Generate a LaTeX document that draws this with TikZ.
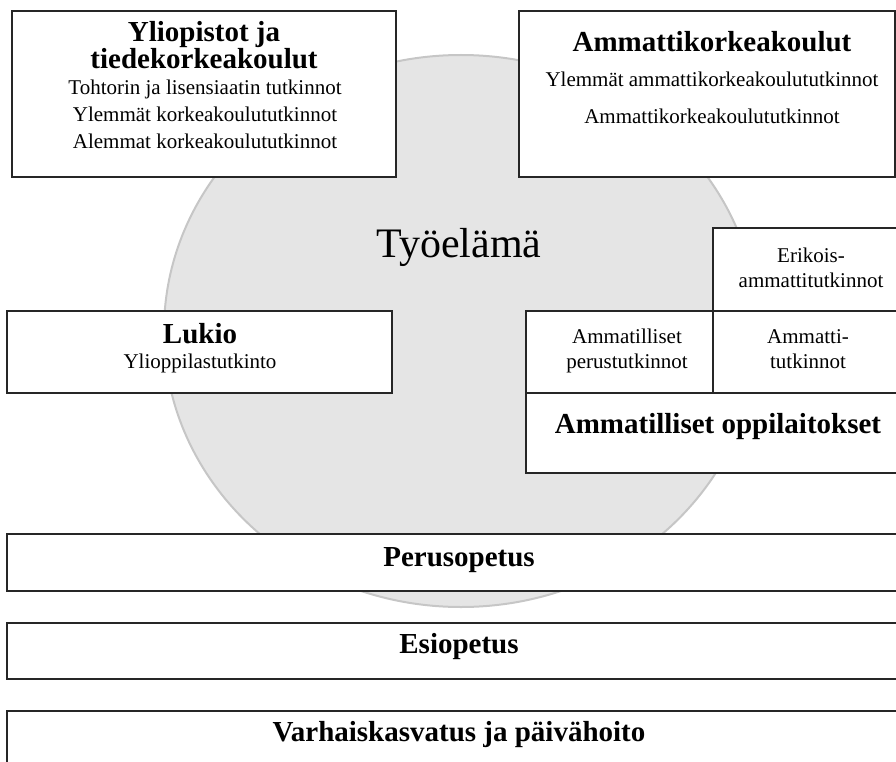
\documentclass[tikz,border=0pt]{standalone}
\usepackage{fontspec}
\setmainfont{Liberation Serif}
\begin{document}
\begin{tikzpicture}[x=1pt,y=-1pt,
  box/.style={draw=black!85, line width=1.3pt, fill=white},
  ttl/.style={font=\bfseries\fontsize{29}{32}\selectfont, anchor=base, inner sep=0pt},
  sub/.style={font=\fontsize{21}{24}\selectfont, anchor=base, inner sep=0pt},
  big/.style={font=\fontsize{42}{46}\selectfont, anchor=base, inner sep=0pt},
]
\useasboundingbox (0,0) rectangle (896,762);
\clip (0,0) rectangle (896,762);

% working life: the large grey disc behind everything
\draw[fill=gray!20, draw=gray!45, line width=2pt]
  (461,331) ellipse [x radius=297, y radius=276];
\node[big] (tyoelama) at (459,257) {Työelämä};

% universities
\draw[box] (12,11) rectangle (396,177);
\node[ttl] (yo1) at (204,42) {Yliopistot ja};
\node[ttl] (yo2) at (204,69) {tiedekorkeakoulut};
\node[sub] (yo3) at (205,95) {Tohtorin ja lisensiaatin tutkinnot};
\node[sub] (yo4) at (205,122) {Ylemmät korkeakoulututkinnot};
\node[sub] (yo5) at (205,149) {Alemmat korkeakoulututkinnot};

% universities of applied sciences
\draw[box] (519,11) rectangle (895,177);
\node[ttl] (amk1) at (712,52) {Ammattikorkeakoulut};
\node[sub] (amk2) at (712,87) {Ylemmät ammattikorkeakoulututkinnot};
\node[sub] (amk3) at (712,124) {Ammattikorkeakoulututkinnot};

% upper secondary school
\draw[box] (7,311) rectangle (392,393);
\node[ttl] (lukio) at (200,343) {Lukio};
\node[sub] (yo) at (200,368) {Ylioppilastutkinto};

% vocational education
\draw[box] (713,228) rectangle (910,311);
\draw[box] (526,311) rectangle (713,393);
\draw[box] (713,311) rectangle (910,393);
\draw[box] (526,393) rectangle (910,473);
\node[sub] (eat1) at (811,262) {Erikois-};
\node[sub] (eat2) at (811,287) {ammattitutkinnot};
\node[sub] (apt1) at (627,343) {Ammatilliset};
\node[sub] (apt2) at (627,368) {perustutkinnot};
\node[sub] (at1) at (808,343) {Ammatti-};
\node[sub] (at2) at (808,368) {tutkinnot};
\node[ttl] (aol) at (718,433) {Ammatilliset oppilaitokset};

% basic education and early childhood
\draw[box] (7,534) rectangle (911,591);
\node[ttl] (perus) at (459,566) {Perusopetus};
\draw[box] (7,623) rectangle (911,679);
\node[ttl] (esi) at (459,653) {Esiopetus};
\draw[box] (7,711) rectangle (911,775);
\node[ttl] (varh) at (459,741) {Varhaiskasvatus ja päivähoito};
\end{tikzpicture}
\end{document}
